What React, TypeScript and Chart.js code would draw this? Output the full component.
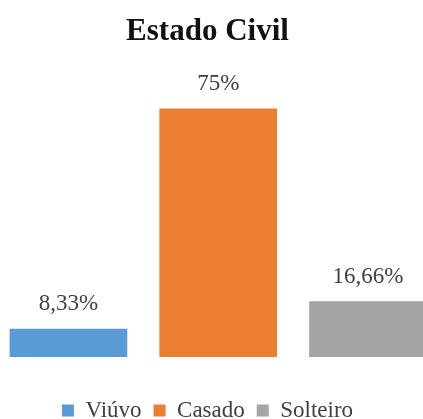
import React, { useEffect, useRef } from 'react';
import { Chart, registerables } from 'chart.js';

Chart.register(...registerables);

// ---- data ----
const categories: string[] = ['Viúvo', 'Casado', 'Solteiro'];
const values: number[] = [8.33, 75, 16.66];
const valueLabels: string[] = ['8,33%', '75%', '16,66%'];
const colors: string[] = ['#5B9BD5', '#ED7D31', '#A5A5A5'];
const titleText = 'Estado Civil';

// ---- axis settings ----
const X_MIN = -0.457;
const X_MAX = 2.314;
const Y_MIN = -9.2;
const Y_MAX = 89.7;

const FONT = "'Liberation Serif', 'Times New Roman', serif";
const TEXT_COLOR = '#404040';

const valueLabelPlugin = {
  id: 'valueLabelPlugin',
  afterDatasetsDraw(chart: any) {
    const ctx = chart.ctx;
    const meta = chart.getDatasetMeta(0);
    ctx.save();
    ctx.font = `23px ${FONT}`;
    ctx.fillStyle = TEXT_COLOR;
    ctx.textAlign = 'center';
    ctx.textBaseline = 'alphabetic';
    meta.data.forEach((bar: any, i: number) => {
      ctx.fillText(valueLabels[i], bar.x, bar.y - 19);
    });
    ctx.restore();
  },
};

export default function App() {
  const ref = useRef<HTMLCanvasElement | null>(null);

  useEffect(() => {
    if (!ref.current) return;
    const chart = new Chart(ref.current, {
      type: 'bar',
      data: {
        datasets: [
          {
            data: values.map((v, i) => ({ x: i, y: v })),
            backgroundColor: colors,
            borderWidth: 0,
            barThickness: 117,
            clip: false as any,
          },
        ],
      },
      options: {
        animation: false,
        responsive: false,
        layout: { padding: { left: 0, right: 8, top: 0, bottom: 0 } },
        scales: {
          x: {
            type: 'linear',
            min: X_MIN,
            max: X_MAX,
            offset: false,
            display: false,
          },
          y: {
            min: Y_MIN,
            max: Y_MAX,
            display: false,
          },
        },
        plugins: {
          title: {
            display: true,
            text: titleText,
            color: '#111111',
            font: { family: FONT, size: 31, weight: 'bold' },
            padding: { top: 13, bottom: 10 },
          },
          legend: {
            display: true,
            position: 'bottom',
            labels: {
              font: { family: FONT, size: 23 },
              color: TEXT_COLOR,
              boxWidth: 12,
              boxHeight: 12,
              padding: 12,
              generateLabels: () =>
                categories.map((c, i) => ({
                  text: c,
                  fillStyle: colors[i],
                  strokeStyle: colors[i],
                  lineWidth: 0,
                  hidden: false,
                  index: i,
                  fontColor: TEXT_COLOR,
                })),
            },
          },
          tooltip: { enabled: false },
        },
      },
      plugins: [valueLabelPlugin],
    });
    return () => chart.destroy();
  }, []);

  return (
    <div style={{ position: 'fixed', top: 0, left: 0, width: 423, height: 432, background: '#fff' }}>
      <canvas ref={ref} width={423} height={432} style={{ display: 'block' }} />
    </div>
  );
}
